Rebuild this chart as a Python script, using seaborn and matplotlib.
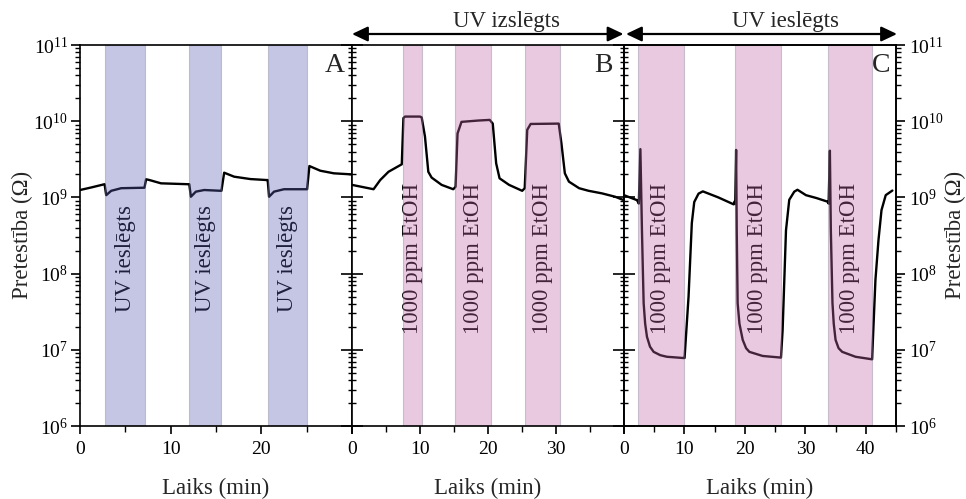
import numpy as np
import pandas as pd
import matplotlib
matplotlib.use("Agg")
import matplotlib.pyplot as plt
import seaborn as sns
from matplotlib.patches import FancyArrowPatch
from matplotlib.ticker import LogLocator, MultipleLocator, NullFormatter, LogFormatterMathtext
import matplotlib.transforms as mtransforms

# ---- Panel A: UV lamp switched on periodically (time, min; resistance, Ohm)
a_time = [0.0, 1.24, 2.71, 2.89, 3.44, 4.54, 7.11, 7.29, 7.66, 8.93, 11.87,
          12.05, 12.23, 12.78, 13.7, 15.6, 15.9, 17.0, 18.8, 20.58, 20.7,
          20.85, 21.4, 22.5, 25.05, 25.3, 26.5, 28.0, 29.8, 30.0]
a_res = [1.25e9, 1.35e9, 1.49e9, 1.07e9, 1.22e9, 1.32e9, 1.34e9, 1.73e9, 1.69e9,
         1.53e9, 1.49e9, 1.49e9, 1.02e9, 1.19e9, 1.25e9, 1.22e9, 2.11e9, 1.87e9,
         1.74e9, 1.69e9, 1.69e9, 1.02e9, 1.19e9, 1.28e9, 1.28e9, 2.58e9, 2.24e9,
         2.07e9, 2.01e9, 2.0e9]
a_bands = [(2.8, 7.2), (12.0, 15.6), (20.7, 25.0)]

# ---- Panel B: 1000 ppm ethanol pulses, UV off
b_time = [0.0, 3.17, 4.15, 5.37, 7.32, 7.56, 7.8, 10.0, 10.25, 10.73, 11.22,
          11.71, 13.18, 14.89, 15.23, 15.52, 16.1, 18.55, 20.25, 20.7, 21.2,
          21.7, 23.1, 25.03, 25.4, 25.77, 26.27, 30.4, 30.8, 31.3, 31.9, 33.4,
          34.8, 36.75, 38.7, 39.7, 40.0]
b_res = [1.46e9, 1.28e9, 1.69e9, 2.17e9, 2.72e9, 1.1e10, 1.15e10, 1.15e10,
         1.12e10, 6.3e9, 2.17e9, 1.82e9, 1.46e9, 1.28e9, 1.38e9, 6.9e9, 9.8e9,
         1.02e10, 1.04e10, 9.3e9, 2.8e9, 1.78e9, 1.46e9, 1.22e9, 1.32e9, 7.7e9,
         9.2e9, 9.3e9, 5.1e9, 2.07e9, 1.61e9, 1.32e9, 1.22e9, 1.13e9, 1.02e9,
         9.4e8, 9.2e8]
b_bands = [(7.5, 10.25), (15.2, 20.45), (25.4, 30.6)]

# ---- Panel C: 1000 ppm ethanol pulses, UV on
c_time = [0.0, 2.15, 2.45, 2.71, 2.97, 3.1, 3.25, 3.5, 3.8, 4.3, 4.9, 6.0, 7.1,
          9.85, 10.02, 10.68, 11.22, 11.62, 12.33, 13.04, 15.6, 18.15,
          18.27, 18.4, 18.55, 18.65, 18.8, 19.1, 19.64, 20.2, 20.74, 22.94,
          25.97, 26.24, 26.8, 27.34, 28.17, 28.7, 30.1, 31.85, 33.66,
          33.85, 34.06, 34.22, 34.49, 34.7, 35.0, 35.5, 36.1, 38.3, 41.05,
          41.2, 41.6, 42.1, 42.6, 43.3, 44.4]
c_res = [1.07e9, 9.2e8, 8.3e8, 4.3e9, 3.7e8, 1.3e8, 4.1e7, 2.2e7, 1.48e7, 1.1e7,
         9.4e6, 8.5e6, 8.1e6, 7.8e6, 7.8e6, 5.0e7, 4.6e8, 8.7e8, 1.12e9, 1.2e9,
         1.0e9, 8.1e8,
         8.8e8, 8.3e8, 4.2e9, 3.7e8, 4.1e7, 2.2e7, 1.35e7, 1.05e7, 9.4e6, 8.3e6,
         7.9e6, 1.8e7, 3.7e8, 9.3e8, 1.19e9, 1.26e9, 1.07e9, 9.8e8, 8.8e8,
         8.3e8, 4.1e9, 3.7e8, 4.1e7, 2.2e7, 1.35e7, 1.05e7, 9.4e6, 8.1e6, 7.5e6,
         1.48e7, 8.3e7, 2.75e8, 6.8e8, 1.07e9, 1.23e9]
c_bands = [(2.3, 9.85), (18.3, 26.0), (33.7, 41.0)]

panel_letters = ["A", "B", "C"]
band_texts = ["UV ieslēgts", "1000 ppm EtOH", "1000 ppm EtOH"]
x_limits = [30, 40, 45]
x_tick_labels = [["0", "10", "20", ""],
                 ["0", "10", "20", "30", ""],
                 ["0", "10", "20", "30", "40"]]
top_labels = ["UV izslēgts", "UV ieslēgts"]
x_label = "Laiks (min)"
y_label = "Pretestība (Ω)"

sns.set_theme(style="ticks")
plt.rcParams["font.family"] = ["Liberation Serif", "DejaVu Serif"]
plt.rcParams["axes.linewidth"] = 1.2
plt.rcParams["xtick.major.width"] = 1.2
plt.rcParams["ytick.major.width"] = 1.2
plt.rcParams["xtick.minor.width"] = 1.0
plt.rcParams["ytick.minor.width"] = 1.0
plt.rcParams["xtick.color"] = "black"
plt.rcParams["ytick.color"] = "black"
plt.rcParams["axes.edgecolor"] = "black"

W, H = 966, 499
fig = plt.figure(figsize=(W / 100, H / 100), dpi=100)

left_px = [80, 352, 624]
width_px = 272
top_px, bottom_px = 45, 426

lavender = (0.35, 0.36, 0.69)
pink = (0.75, 0.40, 0.66)
band_colors = [lavender, pink, pink]

times = [a_time, b_time, c_time]
values = [a_res, b_res, c_res]
bands = [a_bands, b_bands, c_bands]
letter_pos = [0.972, 0.960, 0.980]

axes = []
for i in range(3):
    ax = fig.add_axes([left_px[i] / W, (H - bottom_px) / H,
                       width_px / W, (bottom_px - top_px) / H])
    axes.append(ax)
    df = pd.DataFrame({"t": times[i], "r": values[i]})
    sns.lineplot(data=df, x="t", y="r", ax=ax, color="black", lw=1.7,
                 estimator=None, sort=False, zorder=2)
    ax.set_yscale("log")
    ax.set_ylim(1e6, 1e11)
    ax.set_xlim(0, x_limits[i])
    ax.set_xlabel(x_label, fontsize=16.5, labelpad=14)
    ax.set_ylabel("")

    trans = mtransforms.blended_transform_factory(ax.transData, ax.transAxes)
    for (x0, x1) in bands[i]:
        ax.axvspan(x0, x1, facecolor=band_colors[i], edgecolor=(0.45, 0.45, 0.55),
                   lw=0.8, alpha=0.35, zorder=3)
        ax.text((x0 + x1) / 2, 0.44, band_texts[i], transform=trans,
                rotation=90, ha="center", va="center", fontsize=16.5,
                color="black", zorder=2.5)

    ax.text(letter_pos[i], 0.98, panel_letters[i], transform=ax.transAxes,
            ha="right", va="top", fontsize=20, zorder=5)

    ax.set_xticks(np.arange(0, x_limits[i] + 1, 10), labels=x_tick_labels[i])
    ax.xaxis.set_minor_locator(MultipleLocator(5))
    ax.tick_params(axis="x", which="major", direction="out", length=6,
                   labelsize=14, pad=5, top=False)
    ax.tick_params(axis="x", which="minor", direction="out", length=4.5, top=False)

    ax.yaxis.set_major_locator(LogLocator(base=10, numticks=10))
    ax.yaxis.set_minor_locator(LogLocator(base=10, subs=np.arange(2, 10), numticks=100))
    ax.yaxis.set_minor_formatter(NullFormatter())
    if i == 0:
        ax.yaxis.set_major_formatter(LogFormatterMathtext())
        ax.tick_params(axis="y", which="major", direction="out", length=6.5,
                       labelsize=14, pad=2, left=True, right=False)
        ax.tick_params(axis="y", which="minor", direction="out", length=3.5,
                       left=True, right=False)
    else:
        ax.tick_params(axis="y", which="major", direction="inout", length=16,
                       left=True, right=False, labelleft=False)
        ax.tick_params(axis="y", which="minor", direction="inout", length=6,
                       left=True, right=False)
    for sp in ax.spines.values():
        sp.set_visible(True)
        sp.set_zorder(4)

# right-hand axis of panel C
ax_r = axes[2].twinx()
ax_r.set_yscale("log")
ax_r.set_ylim(1e6, 1e11)
ax_r.yaxis.set_major_locator(LogLocator(base=10, numticks=10))
ax_r.yaxis.set_minor_locator(LogLocator(base=10, subs=np.arange(2, 10), numticks=100))
ax_r.yaxis.set_major_formatter(LogFormatterMathtext())
ax_r.yaxis.set_minor_formatter(NullFormatter())
ax_r.tick_params(axis="y", which="major", direction="out", length=6.5,
                 labelsize=14, pad=3)
ax_r.tick_params(axis="y", which="minor", direction="out", length=3.5)

# y-axis titles on both sides
fig.text(22 / W, 1 - 235 / H, y_label, rotation=90, ha="center", va="center",
         fontsize=16.5)
fig.text(955 / W, 1 - 235 / H, y_label, rotation=90, ha="center", va="center",
         fontsize=16.5)

# double-headed arrows marking UV state above panels B and C
arrow_y = 1 - 34 / H
for (x0, x1) in [(352, 623.5), (626, 897)]:
    fig.add_artist(FancyArrowPatch((x0 / W, arrow_y), (x1 / W, arrow_y),
                                   transform=fig.transFigure,
                                   arrowstyle="<|-|>,head_length=0.95,head_width=0.45",
                                   mutation_scale=10, lw=1.6, color="black",
                                   shrinkA=0, shrinkB=0))
fig.text(506.7 / W, 1 - 22 / H, top_labels[0], ha="center", va="center", fontsize=16.5)
fig.text(786 / W, 1 - 22 / H, top_labels[1], ha="center", va="center", fontsize=16.5)

fig.savefig("out.png", dpi=100)
